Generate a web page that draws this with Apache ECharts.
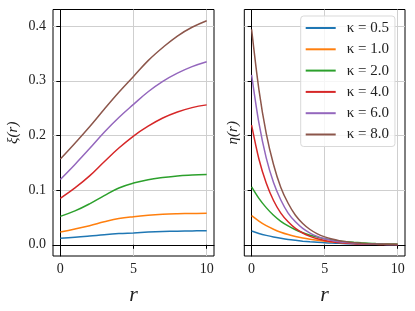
<!DOCTYPE html>
<html>
<head>
<meta charset="utf-8">
<script src="https://cdn.jsdelivr.net/npm/echarts@6/dist/echarts.min.js"></script>
<style>
html,body{margin:0;padding:0;background:#fff;}
#c{width:415px;height:311px;}
</style>
</head>
<body>
<div id="c"></div>
<script>
// r samples
const rXi = [0,1,2,3,4,5,6,7,8,9,10];
const rEta = [0,0.5,1,1.5,2,2.5,3,3.5,4,4.5,5,5.5,6,6.5,7,7.5,8,8.5,9,9.5,10];
const kappaLabels = ['κ = 0.5','κ = 1.0','κ = 2.0','κ = 4.0','κ = 6.0','κ = 8.0'];
const colors = ['#1f77b4','#ff7f0e','#2ca02c','#d62728','#9467bd','#8c564b'];
const xTicks = [0,5,10];
const yTicks = [0,0.1,0.2,0.3,0.4];

// xi(r) per kappa
const xi05 = [0.0122,0.0138,0.0160,0.0185,0.0205,0.0218,0.0232,0.0242,0.0249,0.0254,0.0258];
const xi10 = [0.0235,0.0290,0.0350,0.0420,0.0480,0.0515,0.0540,0.0557,0.0567,0.0573,0.0577];
const xi20 = [0.052,0.062,0.075,0.090,0.104,0.113,0.119,0.123,0.126,0.1275,0.1285];
const xi40 = [0.085,0.104,0.126,0.152,0.177,0.199,0.217,0.232,0.243,0.251,0.256];
const xi60 = [0.1195,0.147,0.176,0.206,0.233,0.257,0.280,0.299,0.314,0.326,0.335];
const xi80 = [0.157,0.186,0.216,0.248,0.279,0.308,0.337,0.361,0.382,0.398,0.410];

// eta(r) per kappa
const eta05 = [0.0252,0.0208,0.0172,0.0142,0.0118,0.0097,0.0081,0.0067,0.0055,0.0045,0.0038,0.0031,0.0026,0.0021,0.0017,0.0014,0.0012,0.0010,0.0008,0.0007,0.0005];
const eta10 = [0.0535,0.0435,0.0350,0.0285,0.0230,0.0187,0.0152,0.0123,0.0100,0.0081,0.0065,0.0053,0.0043,0.0035,0.0028,0.0023,0.0018,0.0015,0.0012,0.0010,0.0008];
const eta20 = [0.106,0.085,0.068,0.054,0.043,0.0345,0.0275,0.022,0.0175,0.014,0.011,0.0088,0.0070,0.0056,0.0045,0.0036,0.0029,0.0023,0.0018,0.0015,0.0012];
const eta40 = [0.219,0.157,0.113,0.081,0.058,0.042,0.030,0.0216,0.0155,0.0111,0.0080,0.0057,0.0041,0.0030,0.0021,0.0015,0.0011,0.0008,0.0006,0.0004,0.0003];
const eta60 = [0.311,0.223,0.159,0.114,0.082,0.058,0.042,0.030,0.0215,0.0154,0.0110,0.0079,0.0056,0.0040,0.0029,0.0021,0.0015,0.0011,0.0008,0.0005,0.0004];
const eta80 = [0.394,0.284,0.204,0.147,0.105,0.076,0.054,0.039,0.028,0.020,0.0145,0.0105,0.0075,0.0054,0.0039,0.0028,0.0020,0.0014,0.0010,0.0007,0.0005];

const xiAll = [xi05,xi10,xi20,xi40,xi60,xi80];
const etaAll = [eta05,eta10,eta20,eta40,eta60,eta80];

const FONT = 'Liberation Serif';
const TXT = '#222';

function pairs(xs, ys){ return xs.map((x,i)=>[x,ys[i]]); }

function xAxisCfg(idx){
  return {
    type:'value', gridIndex:idx, min:-0.5, max:10.5,
    name:'r', nameLocation:'middle', nameGap:28,
    nameTextStyle:{fontFamily:FONT, fontStyle:'italic', fontSize:22, color:TXT},
    axisLine:{show:true, lineStyle:{color:'#000', width:1}},
    axisTick:{show:true, inside:false, length:4, customValues:xTicks, lineStyle:{color:'#000'}},
    axisLabel:{show:true, customValues:xTicks, margin:6, fontFamily:FONT, fontSize:14, color:TXT,
      formatter:v=>String(Math.round(v))},
    splitLine:{show:true, lineStyle:{color:'#cfcfcf', width:1}}
  };
}
function yAxisCfg(idx, name, gap, labels){
  return {
    type:'value', gridIndex:idx, min:-0.0205, max:0.4305,
    name:name, nameLocation:'middle', nameGap:gap,
    nameTextStyle:{fontFamily:FONT, fontStyle:'italic', fontSize:15, color:TXT},
    axisLine:{show:true, lineStyle:{color:'#000', width:1}},
    axisTick:{show:true, inside:false, length:4, customValues:yTicks, lineStyle:{color:'#000'}},
    axisLabel:{show:labels, customValues:yTicks, margin:7, fontFamily:FONT, fontSize:14, color:TXT,
      formatter:v=>v.toFixed(1)},
    splitLine:{show:true, lineStyle:{color:'#cfcfcf', width:1}}
  };
}

const series = [];
for (let k=0;k<6;k++){
  series.push({
    type:'line', name:kappaLabels[k], xAxisIndex:0, yAxisIndex:0,
    data:pairs(rXi, xiAll[k]), smooth:0.4, showSymbol:false,
    lineStyle:{width:1.5, color:colors[k]}, itemStyle:{color:colors[k]}, z:3
  });
}
for (let k=0;k<6;k++){
  series.push({
    type:'line', name:kappaLabels[k], xAxisIndex:1, yAxisIndex:1,
    data:pairs(rEta, etaAll[k]), smooth:0.3, showSymbol:false,
    lineStyle:{width:1.5, color:colors[k]}, itemStyle:{color:colors[k]}, z:3
  });
}

const chart = echarts.init(document.getElementById('c'), null, {renderer:'canvas'});
chart.setOption({
  animation:false,
  backgroundColor:'#fff',
  grid:[
    {left:53, top:9.5, width:161, height:249.5, show:true, borderColor:'#000', borderWidth:1, backgroundColor:'transparent'},
    {left:244.3, top:9.5, width:160.7, height:249.5, show:true, borderColor:'#000', borderWidth:1, backgroundColor:'transparent'}
  ],
  xAxis:[xAxisCfg(0), xAxisCfg(1)],
  yAxis:[yAxisCfg(0,'ξ(r)',32,true), yAxisCfg(1,'η(r)',4,false)],
  legend:{
    left:300.7, top:16, orient:'vertical',
    data:kappaLabels,
    icon:'rect', itemWidth:30, itemHeight:2, itemGap:5.3,
    padding:[4,6,4,5],
    backgroundColor:'rgba(255,255,255,0.8)', borderColor:'#d9d9d9', borderWidth:1, borderRadius:3,
    textStyle:{fontFamily:FONT, fontSize:15, color:TXT, lineHeight:16, padding:[0,0,0,6]}
  },
  series:series
});
</script>
</body>
</html>
